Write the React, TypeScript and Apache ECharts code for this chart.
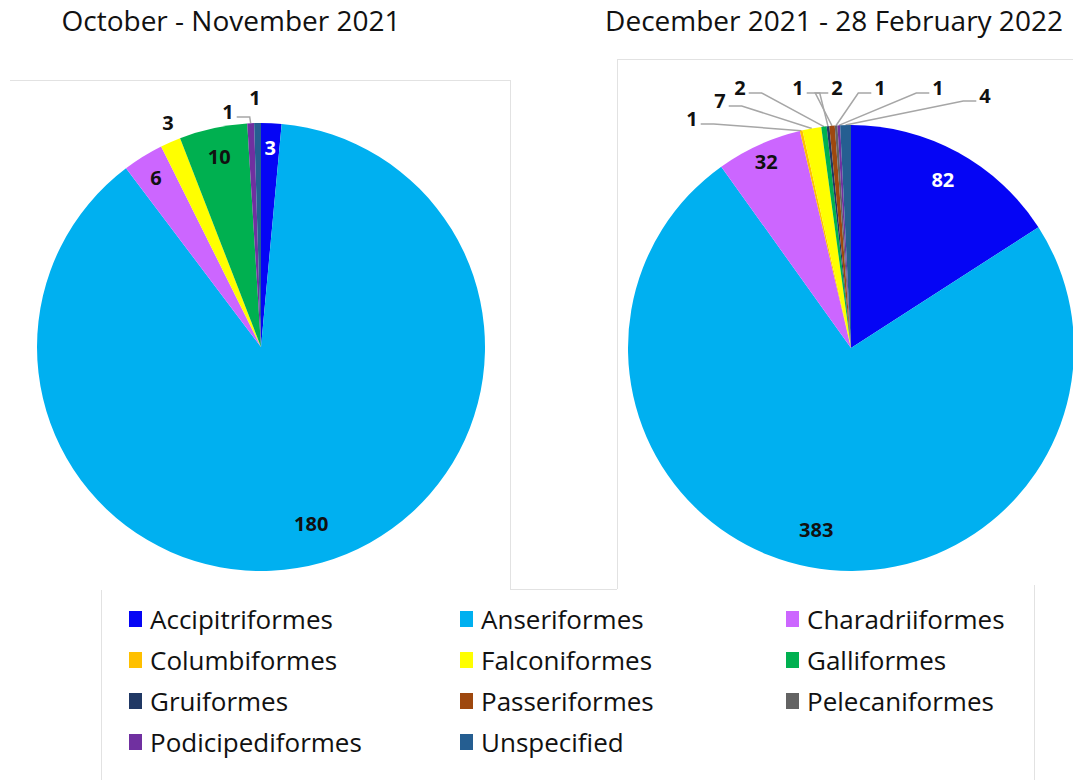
import React, { useEffect, useRef } from 'react';
import * as echarts from 'echarts';

// ---------- data ----------
const categories = [
  'Accipitriformes', 'Anseriformes', 'Charadriiformes', 'Columbiformes',
  'Falconiformes', 'Galliformes', 'Gruiformes', 'Passeriformes',
  'Pelecaniformes', 'Podicipediformes', 'Unspecified',
];
const octNov2021 = [3, 180, 6, 0, 3, 10, 0, 0, 0, 1, 1];
const dec2021Feb2022 = [82, 383, 32, 1, 7, 2, 1, 2, 1, 1, 4];
const periodTitles = ['October - November 2021', 'December 2021 - 28 February 2022'];

// ---------- styles ----------
const COLORS = [
  '#0505F5', '#00B0F0', '#CC66FF', '#FFC000', '#FFFF00', '#00B050',
  '#203864', '#9E480E', '#636363', '#7030A0', '#255E91',
];
const FONT = '"Open Sans", "Noto Sans", sans-serif';

type Outside = { dx: number; dy: number; side: 'l' | 'r' | null };
type PieCfg = {
  center: [number, number];
  r: number;
  values: number[];
  inside: Record<number, number>;
  white: number[];
  outside: Record<number, Outside>;
};

const PIES: PieCfg[] = [
  {
    center: [261, 347], r: 224, values: octNov2021,
    inside: { 0: 0.89, 1: 0.82, 2: 0.89, 5: 0.87 },
    white: [0],
    outside: {
      4: { dx: -93, dy: -225, side: null },
      9: { dx: -33, dy: -236, side: 'r' },
      10: { dx: -6, dy: -250, side: null },
    },
  },
  {
    center: [851, 348], r: 223, values: dec2021Feb2022,
    inside: { 0: 0.86, 1: 0.83, 2: 0.92 },
    white: [0],
    outside: {
      3: { dx: -159, dy: -230, side: 'r' },
      4: { dx: -131, dy: -248, side: 'r' },
      5: { dx: -111, dy: -261, side: 'r' },
      6: { dx: -53, dy: -261, side: 'r' },
      7: { dx: -14, dy: -261, side: 'l' },
      8: { dx: 29, dy: -261, side: 'l' },
      9: { dx: 87, dy: -261, side: 'l' },
      10: { dx: 134, dy: -253, side: 'l' },
    },
  },
];

function midAngle(values: number[], i: number) {
  const total = values.reduce((a, b) => a + b, 0);
  let cum = 0;
  for (let k = 0; k < i; k++) cum += values[k];
  return (2 * Math.PI * (cum + values[i] / 2)) / total;
}

function layoutLabel(params: any) {
  const p = PIES[params.seriesIndex];
  if (!p) return {};
  const i = params.dataIndex;
  const a = midAngle(p.values, i);
  const [cx, cy] = p.center;
  const sin = Math.sin(a);
  const cos = Math.cos(a);
  if (p.inside[i] != null) {
    const f = p.inside[i];
    return { x: cx + f * p.r * sin, y: cy - f * p.r * cos, align: 'center', verticalAlign: 'middle' };
  }
  const o = p.outside[i];
  if (!o) return {};
  const x = cx + o.dx;
  const y = cy + o.dy;
  const res: any = { x, y, align: 'center', verticalAlign: 'middle' };
  if (o.side) {
    const hw = (params.labelRect?.width || 10) / 2;
    const ly = y + 6;
    const p3x = o.side === 'r' ? x + hw + 3 : x - hw - 3;
    const p2x = o.side === 'r' ? p3x + 13 : p3x - 13;
    res.labelLinePoints = [[cx + p.r * sin, cy - p.r * cos], [p2x, ly], [p3x, ly]];
  }
  return res;
}

function buildSeries(p: PieCfg) {
  return {
    type: 'pie',
    center: p.center,
    radius: [0, p.r],
    startAngle: 90,
    clockwise: true,
    avoidLabelOverlap: false,
    silent: true,
    itemStyle: { borderWidth: 0 },
    labelLayout: layoutLabel,
    data: categories.map((name, i) => {
      const v = p.values[i];
      const isInside = p.inside[i] != null;
      const out = p.outside[i];
      return {
        name,
        value: v,
        itemStyle: { color: COLORS[i] },
        label: {
          show: v > 0,
          position: isInside ? 'inside' : 'outside',
          formatter: '{c}',
          color: p.white.includes(i) ? '#FFFFFF' : '#111111',
          fontFamily: FONT,
          fontWeight: 'bold',
          fontSize: 20,
        },
        labelLine: {
          show: !!(out && out.side),
          lineStyle: { color: '#A6A6A6', width: 1.5 },
        },
      };
    }),
  };
}

const LEGEND_LEFT = [129, 460, 786];

export default function App() {
  const ref = useRef<HTMLDivElement>(null);
  useEffect(() => {
    document.body.style.margin = '0';
    if (!ref.current) return;
    const chart = echarts.init(ref.current, null, { renderer: 'svg' });
    const faint = { stroke: '#E2E2E2', lineWidth: 1 };
    chart.setOption({
      animation: false,
      backgroundColor: '#FFFFFF',
      graphic: [
        { type: 'line', shape: { x1: 10, y1: 80.5, x2: 510, y2: 80.5 }, style: faint, silent: true },
        { type: 'line', shape: { x1: 510.5, y1: 80, x2: 510.5, y2: 589 }, style: faint, silent: true },
        { type: 'line', shape: { x1: 510, y1: 589.5, x2: 617, y2: 589.5 }, style: faint, silent: true },
        { type: 'line', shape: { x1: 617.5, y1: 59, x2: 617.5, y2: 589 }, style: faint, silent: true },
        { type: 'line', shape: { x1: 617, y1: 59.5, x2: 1073, y2: 59.5 }, style: faint, silent: true },
        { type: 'line', shape: { x1: 101.5, y1: 590, x2: 101.5, y2: 780 }, style: faint, silent: true },
        { type: 'line', shape: { x1: 1034.5, y1: 585, x2: 1034.5, y2: 780 }, style: faint, silent: true },
        {
          type: 'text', x: 231, y: 20, silent: true,
          style: { text: periodTitles[0], fill: '#111', font: `28px ${FONT}`, textAlign: 'center', textVerticalAlign: 'middle' },
        },
        {
          type: 'text', x: 834, y: 20, silent: true,
          style: { text: periodTitles[1], fill: '#111', font: `28px ${FONT}`, textAlign: 'center', textVerticalAlign: 'middle' },
        },
      ],
      legend: LEGEND_LEFT.map((left, col) => ({
        data: categories.filter((_, i) => i % 3 === col),
        orient: 'vertical',
        left,
        top: 606,
        padding: 0,
        icon: 'rect',
        itemWidth: 13,
        itemHeight: 16,
        itemGap: 15,
        selectedMode: false,
        textStyle: { fontFamily: FONT, fontSize: 26, color: '#111', lineHeight: 26, padding: [0, 0, 0, 3] },
      })),
      series: PIES.map(buildSeries),
    });
    return () => chart.dispose();
  }, []);
  return <div ref={ref} style={{ width: 1073, height: 780 }} />;
}
